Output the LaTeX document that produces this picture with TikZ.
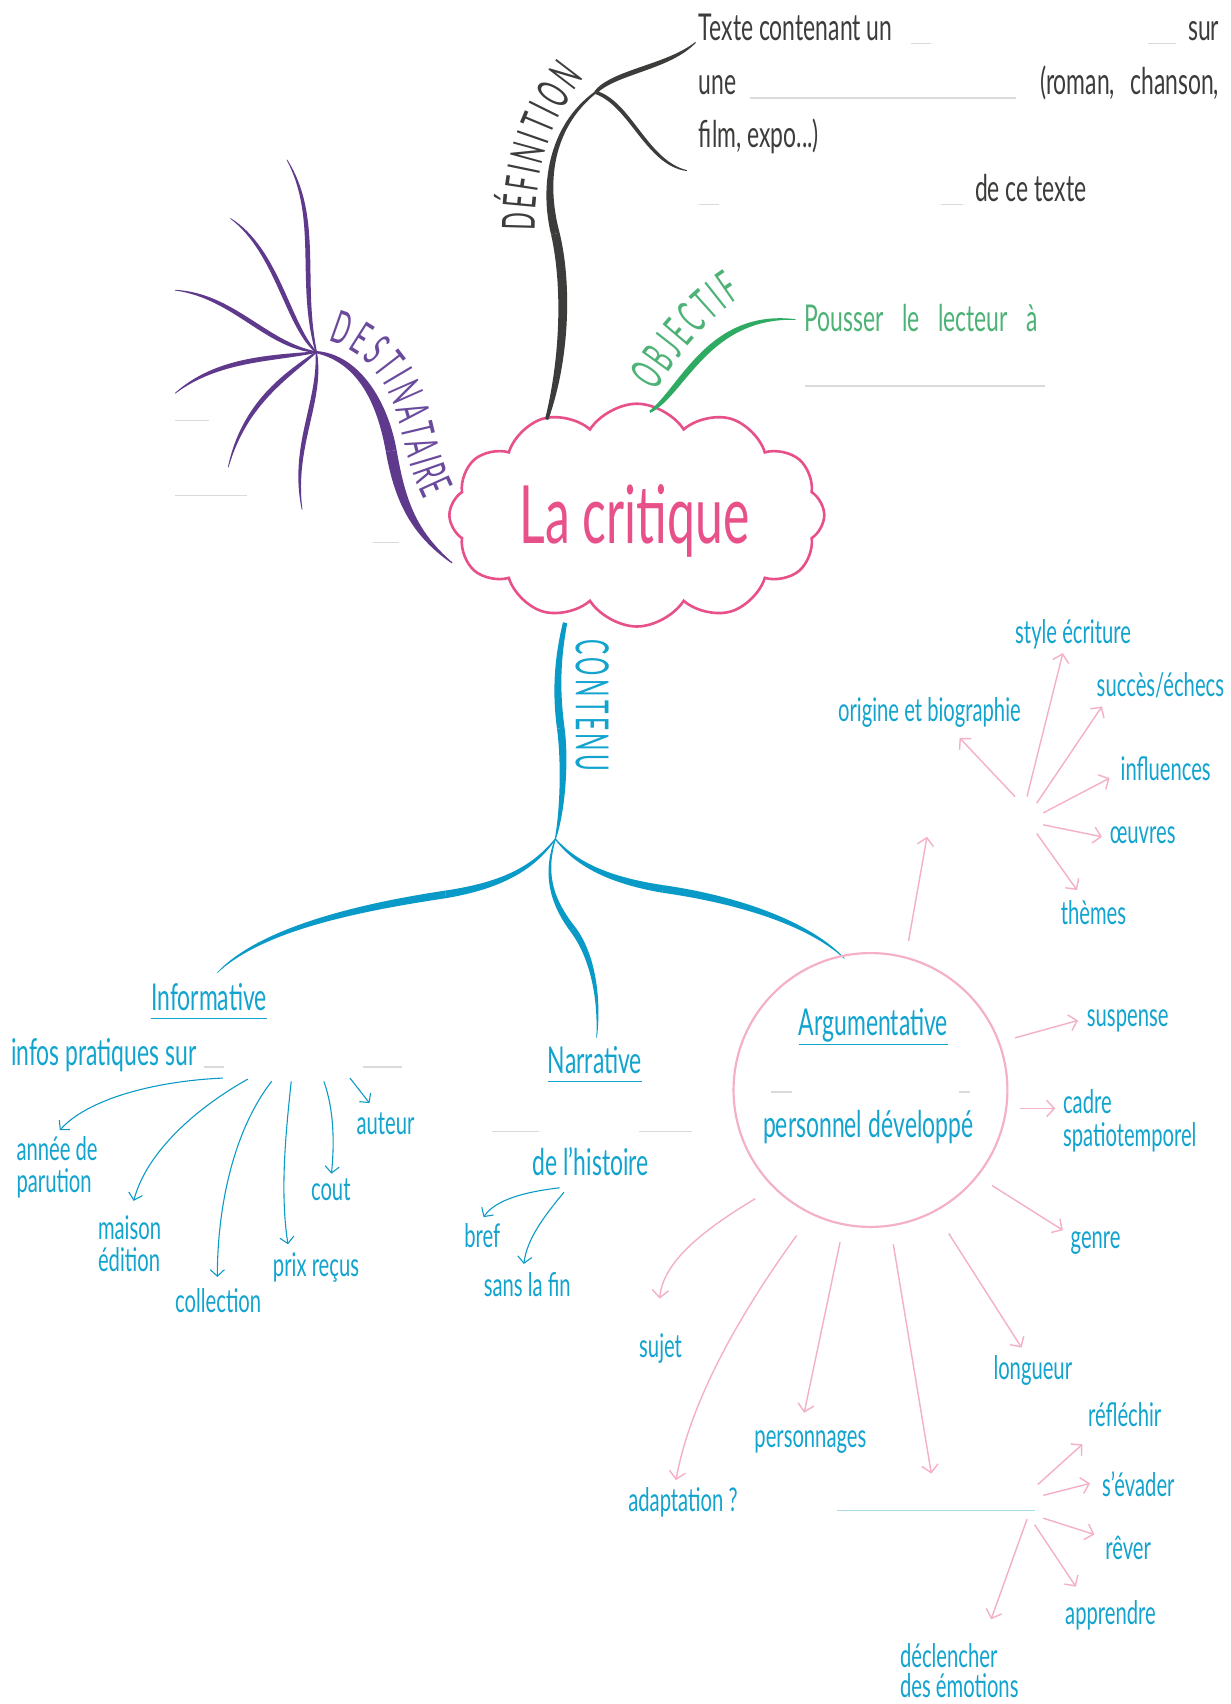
\documentclass[tikz,border=0pt]{standalone}
\usepackage{fontspec}
\setmainfont{Lato}[FakeStretch=0.62]
\newfontfamily\labfam{Lato}[FakeStretch=0.5]
\usetikzlibrary{shapes.symbols,shapes.geometric,arrows.meta,decorations.text,calc}
\definecolor{defc}{HTML}{3C3C3B}
\definecolor{purp}{HTML}{5F3A8C}
\definecolor{purpt}{HTML}{6A4A9C}
\definecolor{grn}{HTML}{2EAA62}
\definecolor{grnt}{HTML}{4DB276}
\definecolor{pinkc}{HTML}{E8508A}
\definecolor{blu}{HTML}{0A9AC7}
\definecolor{blut}{HTML}{12A4CF}
\definecolor{lpink}{HTML}{F4B0C7}
\definecolor{blankc}{HTML}{DADADA}
\definecolor{lblue}{HTML}{A8DCEC}
\newcommand\fDef{\fontsize{34}{40}\selectfont}
\newcommand\fHead{\fontsize{34}{40}\selectfont}
\newcommand\fSub{\fontsize{30}{36}\selectfont}
\newcommand\fLab{\labfam\fontsize{42}{46}\selectfont}
\newcommand\fBig{\fontsize{74}{80}\selectfont}
% tapered branch: color, P0, C1, C2, P3, half widths w0 w1 w2 w3
\newcommand\taper[9]{%
  \fill[#1] ($#2!#6!90:#3$) .. controls ($#3!#7!-90:#2$) and ($#4!#8!90:#5$) .. ($#5!#9!-90:#4$)
    -- ($#5!#9!90:#4$) .. controls ($#4!#8!-90:#5$) and ($#3!#7!90:#2$) .. ($#2!#6!-90:#3$) -- cycle;}
\begin{document}
\begin{tikzpicture}[x=1pt,y=-1pt,
  txt/.style={inner sep=0pt, anchor=base west},
  deft/.style={txt, text=defc, font=\fDef},
  bt/.style={txt, text=blut, font=\fSub},
  bh/.style={txt, text=blut, font=\fHead},
  blankline/.style={draw=blankc, line width=1.3pt},
  uline/.style={draw=blut, line width=1.4pt},
  barr/.style={draw=blu, line width=1pt, -{Straight Barb[length=6pt,width=13pt]}},
  parr/.style={draw=lpink, line width=1.3pt, -{Straight Barb[length=7pt,width=15pt]}}]
\fill[white] (0,0) rectangle (1132,1568);
\useasboundingbox (0,0) rectangle (1132,1568);

% ---------- central cloud ----------
\node[cloud, cloud puffs=12, cloud puff arc=115, aspect=1.7, draw=pinkc, line width=2.4pt,
      minimum width=345pt, minimum height=205pt, inner sep=0pt] (cloud) at (586,474) {};
\node[inner sep=0pt, anchor=base, text=pinkc, font=\fBig] (title) at (584,500) {La critique};

% ---------- DEFINITION ----------
\coordinate (defBase) at (503,386);
\coordinate (defMid) at (511,215);
\coordinate (defFork) at (548,85);
\coordinate (defT1) at (640,39);
\coordinate (defT2) at (632,157);
\taper{defc}{(defBase)}{(520,330)}{(522,262)}{(defMid)}{1.5pt}{4.5pt}{4.5pt}{4pt}
\taper{defc}{(defMid)}{(500,172)}{(505,118)}{(defFork)}{4pt}{3.5pt}{2.5pt}{1pt}
\taper{defc}{(defFork)}{(565,66)}{(615,62)}{(defT1)}{1.5pt}{3pt}{3pt}{0.4pt}
\taper{defc}{(defFork)}{(580,95)}{(595,150)}{(defT2)}{1.5pt}{2.5pt}{2.5pt}{0.4pt}
\path[decorate, decoration={text along path, text={|\fLab|DÉFINITION}, text align=fit to path, text color=defc}]
  (492,212) .. controls (492,160) and (506,110) .. (538,72);

\node[deft] (d1) at (643,37) {Texte contenant un};
\node[deft, anchor=base east] (d1b) at (1122,37) {sur};
\node[deft] (d2) at (643,87) {une};
\node[deft, anchor=base east] (d2b) at (1122,87) {(roman,\hspace{14pt}chanson,};
\node[deft] (d3) at (643,136) {film, expo...)};
\node[deft] (d4) at (897,185) {de ce texte};
\draw[blankline] (838,40) -- (857,40);
\draw[blankline] (1056,40) -- (1082,40);
\draw[blankline] (690,90) -- (935,90);
\draw[blankline] (643,188) -- (662,188);
\draw[blankline] (866,188) -- (886,188);

% ---------- OBJECTIF ----------
\coordinate (objBase) at (598,379);
\coordinate (objEnd) at (732,294);
\taper{grn}{(objBase)}{(628,360)}{(652,288)}{(objEnd)}{1pt}{4.5pt}{4pt}{0.3pt}
\path[decorate, decoration={text along path, text={|\fLab|OBJECTIF}, text align=fit to path, text color=grnt}]
  (603,360) .. controls (622,331) and (647,296) .. (683,273);
\node[txt, text=grnt, font=\fDef] (obj) at (740,305) {Pousser\hspace{17pt}le\hspace{17pt}lecteur\hspace{17pt}à};
\draw[blankline] (741,355) -- (962,355);

% ---------- DESTINATAIRE ----------
\coordinate (hub) at (291,324);
\coordinate (dMid) at (360,415);
\coordinate (dEnd) at (416,518);
\taper{purp}{(hub)}{(330,330)}{(352,370)}{(dMid)}{1pt}{4pt}{5pt}{5pt}
\taper{purp}{(dMid)}{(368,460)}{(380,490)}{(dEnd)}{5pt}{5pt}{3pt}{0.5pt}
\taper{purp}{(hub)}{(275,260)}{(295,200)}{(264,147)}{0.7pt}{3.2pt}{2.6pt}{0.3pt}
\taper{purp}{(hub)}{(265,300)}{(255,230)}{(212,201)}{0.7pt}{3.2pt}{2.6pt}{0.3pt}
\taper{purp}{(hub)}{(245,318)}{(215,272)}{(161,267)}{0.7pt}{3.2pt}{2.6pt}{0.3pt}
\taper{purp}{(hub)}{(250,330)}{(200,330)}{(161,362)}{0.7pt}{3.2pt}{2.6pt}{0.3pt}
\taper{purp}{(hub)}{(265,345)}{(225,370)}{(210,430)}{0.7pt}{3.2pt}{2.6pt}{0.3pt}
\taper{purp}{(hub)}{(296,370)}{(268,410)}{(278,469)}{0.7pt}{3.2pt}{2.6pt}{0.3pt}
\path[decorate, decoration={text along path, text={|\fLab|DESTINATAIRE}, text align=fit to path, text color=purpt}]
  (302,314) .. controls (335,322) and (358,350) .. (368,390) .. controls (375,420) and (380,440) .. (390,460);
\draw[blankline] (161,387) -- (192,387);
\draw[blankline] (161,456) -- (227,456);
\draw[blankline] (343,499) -- (367,499);

% ---------- CONTENU ----------
\coordinate (cBase) at (520,573);
\coordinate (cMid) at (516,670);
\coordinate (cFork) at (511,772);
\taper{blu}{(cBase)}{(512,610)}{(512,640)}{(cMid)}{2pt}{3pt}{3.5pt}{3.5pt}
\taper{blu}{(cMid)}{(520,700)}{(518,745)}{(cFork)}{3.5pt}{3.5pt}{2.5pt}{0.5pt}
\path[decorate, decoration={text along path, text={|\fLab|CONTENU}, text align=fit to path, text color=blut}]
  (530,588) -- (530,710);
\coordinate (iMid) at (410,823);
\coordinate (iEnd) at (200,895);
\taper{blu}{(cFork)}{(490,800)}{(460,815)}{(iMid)}{0.5pt}{2pt}{3pt}{3.5pt}
\taper{blu}{(iMid)}{(330,835)}{(240,855)}{(iEnd)}{3.5pt}{3.5pt}{2pt}{0.3pt}
\coordinate (nMid) at (527,855);
\coordinate (nEnd) at (549,955);
\taper{blu}{(cFork)}{(500,805)}{(508,830)}{(nMid)}{0.5pt}{1.5pt}{2.5pt}{3pt}
\taper{blu}{(nMid)}{(546,880)}{(552,920)}{(nEnd)}{3pt}{3pt}{1.5pt}{0.3pt}
\coordinate (aMid) at (610,818);
\coordinate (aEnd) at (777,882);
\taper{blu}{(cFork)}{(530,795)}{(560,810)}{(aMid)}{0.5pt}{2pt}{3pt}{3.5pt}
\taper{blu}{(aMid)}{(680,828)}{(745,850)}{(aEnd)}{3.5pt}{3.5pt}{2pt}{0.3pt}

% ---------- Informative ----------
\node[bh] (inf) at (139,930) {Informative};
\draw[uline] ([yshift=-7pt]inf.base west) -- ([yshift=-7pt]inf.base east);
\node[bh] (ips) at (10,980) {infos pratiques sur};
\draw[blankline] (188,982) -- (206,982);
\draw[blankline] (334,982) -- (370,982);
\node[bt] (ann) at (15,1068) {année de};
\node[bt] (ann2) at (15,1097) {parution};
\node[bt] (mai) at (90,1141) {maison};
\node[bt] (mai2) at (90,1170) {édition};
\node[bt] (col) at (161,1208) {collection};
\node[bt] (pri) at (251,1175) {prix reçus};
\node[bt] (cou) at (286,1105) {cout};
\node[bt] (aut) at (328,1044) {auteur};
\coordinate (ia1) at (205,992);  \coordinate (ia1e) at (55,1040);
\coordinate (ia2) at (228,993);  \coordinate (ia2e) at (123,1105);
\coordinate (ia3) at (250,995);  \coordinate (ia3e) at (200,1175);
\coordinate (ia4) at (268,995);  \coordinate (ia4e) at (265,1145);
\coordinate (ia5) at (298,995);  \coordinate (ia5e) at (305,1080);
\coordinate (ia6) at (322,992);  \coordinate (ia6e) at (340,1015);
\draw[barr] (ia1) .. controls (140,995) and (80,1012) .. (ia1e);
\draw[barr] (ia2) .. controls (180,1020) and (135,1060) .. (ia2e);
\draw[barr] (ia3) .. controls (215,1040) and (200,1110) .. (ia3e);
\draw[barr] (ia4) .. controls (262,1050) and (258,1100) .. (ia4e);
\draw[barr] (ia5) .. controls (307,1020) and (308,1050) .. (ia5e);
\draw[barr] (ia6) -- (ia6e);

% ---------- Narrative ----------
\node[bh] (nar) at (504,988) {Narrative};
\draw[uline] ([yshift=-7pt]nar.base west) -- ([yshift=-7pt]nar.base east);
\draw[blankline] (453,1041) -- (496,1041);
\draw[blankline] (588,1041) -- (637,1041);
\node[bh] (his) at (490,1082) {de l’histoire};
\node[bt] (bref) at (427,1148) {bref};
\node[bt] (sans) at (445,1193) {sans la fin};
\coordinate (na1) at (515,1093); \coordinate (na1e) at (445,1120);
\coordinate (na2) at (519,1097); \coordinate (na2e) at (482,1163);
\draw[barr] (na1) .. controls (480,1097) and (455,1105) .. (na1e);
\draw[barr] (na2) .. controls (500,1120) and (485,1140) .. (na2e);

% ---------- Argumentative ----------
\node[circle, draw=lpink, line width=2pt, minimum size=252pt, inner sep=0pt] (argc) at (801,1003) {};
\node[bh] (arg) at (735,953) {Argumentative};
\draw[uline] ([yshift=-8pt]arg.base west) -- ([yshift=-8pt]arg.base east);
\draw[blankline] (709,1005) -- (729,1005);
\draw[blankline] (882,1005) -- (893,1005);
\node[bh] (per) at (702,1047) {personnel\hspace{6pt}développé};

\node[bt] (sty) at (934,592) {style écriture};
\node[bt] (suc) at (1009,641) {succès/échecs};
\node[bt] (ori) at (771,664) {origine et biographie};
\node[bt] (inl) at (1031,718) {influences};
\node[bt] (oeu) at (1021,776) {œuvres};
\node[bt] (the) at (976,851) {thèmes};
\node[bt] (sus) at (1000,945) {suspense};
\node[bt] (cad) at (978,1025) {cadre};
\node[bt] (cad2) at (978,1055) {spatiotemporel};
\node[bt] (gen) at (985,1149) {genre};
\node[bt] (suj) at (588,1249) {sujet};
\node[bt] (ada) at (578,1391) {adaptation ?};
\node[bt] (pers) at (694,1332) {personnages};
\node[bt] (lon) at (914,1269) {longueur};
\node[bt] (ref) at (1001,1313) {réfléchir};
\node[bt] (eva) at (1014,1377) {s’évader};
\node[bt] (rev) at (1017,1435) {rêver};
\node[bt] (app) at (980,1495) {apprendre};
\node[bt] (dec) at (828,1534) {déclencher};
\node[bt] (dec2) at (828,1562) {des émotions};
\draw[draw=lblue, line width=1.3pt] (770,1390) -- (952,1390);

\coordinate (up1) at (836,866);  \coordinate (up1e) at (853,770);
\draw[parr] (up1) -- (up1e);
\coordinate (h1) at (934,733);  \coordinate (h1e) at (883,679);
\coordinate (h2) at (945,733);  \coordinate (h2e) at (978,601);
\coordinate (h3) at (954,739);  \coordinate (h3e) at (1014,650);
\coordinate (h4) at (960,748);  \coordinate (h4e) at (1021,716);
\coordinate (h5) at (960,759);  \coordinate (h5e) at (1014,770);
\coordinate (h6) at (954,767);  \coordinate (h6e) at (991,819);
\foreach \k in {1,...,6} {\draw[parr] (h\k) -- (h\k e);}
\coordinate (r1) at (934,955);  \coordinate (r1e) at (992,939);
\coordinate (r2) at (939,1020); \coordinate (r2e) at (971,1020);
\coordinate (r3) at (913,1091); \coordinate (r3e) at (978,1132);
\foreach \k in {1,2,3} {\draw[parr] (r\k) -- (r\k e);}
\coordinate (b1) at (695,1103); \coordinate (b1e) at (607,1195);
\coordinate (b2) at (733,1137); \coordinate (b2e) at (622,1362);
\coordinate (b3) at (773,1143); \coordinate (b3e) at (740,1300);
\coordinate (b4) at (822,1145); \coordinate (b4e) at (857,1356);
\coordinate (b5) at (873,1135); \coordinate (b5e) at (940,1240);
\draw[parr] (b1) .. controls (650,1130) and (610,1160) .. (b1e);
\draw[parr] (b2) .. controls (680,1210) and (635,1290) .. (b2e);
\draw[parr] (b3) -- (b3e);
\draw[parr] (b4) -- (b4e);
\draw[parr] (b5) -- (b5e);
\coordinate (p1) at (955,1366); \coordinate (p1e) at (996,1329);
\coordinate (p2) at (960,1376); \coordinate (p2e) at (1003,1365);
\coordinate (p3) at (960,1397); \coordinate (p3e) at (1007,1412);
\coordinate (p4) at (952,1403); \coordinate (p4e) at (990,1460);
\coordinate (p5) at (945,1398); \coordinate (p5e) at (912,1490);
\foreach \k in {1,...,5} {\draw[parr] (p\k) -- (p\k e);}
\end{tikzpicture}
\end{document}
